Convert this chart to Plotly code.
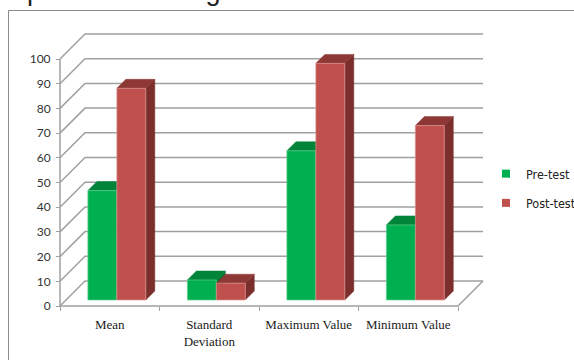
import plotly.graph_objects as go

# ---------------- data ----------------
categories = ["Mean", "Standard<br>Deviation", "Maximum Value", "Minimum Value"]
series_names = ["Pre-test", "Post-test"]
pre_test = [44.3, 8.1, 60.4, 30.4]
post_test = [85.7, 6.8, 95.8, 70.6]
y_tick_values = [0, 10, 20, 30, 40, 50, 60, 70, 80, 90, 100]

# ---------------- style ----------------
WALL_DX, WALL_DY = 0.2513, 10.12      # oblique depth of the chart walls (data units)
BAR_FRONT = 0.24                       # depth fraction of bar front faces
BAR_DEPTH = 0.36                       # depth fraction of bar thickness
GROUP_START = 0.22                     # start of first bar within a category
BAR_W = 0.291
GRID_COLOR = "#a0a0a0"
COLORS = {
    "Pre-test": dict(front="#00B050", top="#00843A", side="#007533", edge="#5fd08e"),
    "Post-test": dict(front="#C0504D", top="#8E3836", side="#7A2F2D", edge="#dc9593"),
}

n_cat = len(categories)
fig = go.Figure()

# ---------- walls, floor and gridlines ----------
gx, gy = [], []
for v in y_tick_values:
    gx += [0, WALL_DX, n_cat + WALL_DX, None]
    gy += [v, v + WALL_DY, v + WALL_DY, None]
gx += [0, n_cat, n_cat + WALL_DX, None, 0, 0]
gy += [0, 0, WALL_DY, None, 0, y_tick_values[-1]]
fig.add_trace(go.Scatter(x=gx, y=gy, mode="lines", line=dict(color=GRID_COLOR, width=1.5),
                         showlegend=False, hoverinfo="skip"))

# ---------- 3D bars ----------
sx, sy = BAR_FRONT * WALL_DX, BAR_FRONT * WALL_DY
ddx, ddy = BAR_DEPTH * WALL_DX, BAR_DEPTH * WALL_DY

for k, (name, vals) in enumerate(zip(series_names, [pre_test, post_test])):
    c = COLORS[name]
    fx, fy, tx, ty, sdx, sdy = [], [], [], [], [], []
    for i, h in enumerate(vals):
        x0 = i + GROUP_START + k * BAR_W + sx
        x1 = x0 + BAR_W
        b = sy
        t = sy + h
        fx += [x0, x1, x1, x0, x0, None]
        fy += [b, b, t, t, b, None]
        tx += [x0, x1, x1 + ddx, x0 + ddx, x0, None]
        ty += [t, t, t + ddy, t + ddy, t, None]
        sdx += [x1, x1 + ddx, x1 + ddx, x1, x1, None]
        sdy += [b, b + ddy, t + ddy, t, b, None]
    fig.add_trace(go.Scatter(x=sdx, y=sdy, mode="lines", fill="toself", fillcolor=c["side"],
                             line=dict(color=c["side"], width=0.5), showlegend=False, hoverinfo="skip"))
    fig.add_trace(go.Scatter(x=tx, y=ty, mode="lines", fill="toself", fillcolor=c["top"],
                             line=dict(color=c["top"], width=0.5), showlegend=False, hoverinfo="skip"))
    fig.add_trace(go.Scatter(x=fx, y=fy, mode="lines", fill="toself", fillcolor=c["front"],
                             line=dict(color=c["edge"], width=0.7), showlegend=False, hoverinfo="skip"))

# legend entries
for name in series_names:
    fig.add_trace(go.Scatter(x=[None], y=[None], mode="markers", name=name, legendgroup=name,
                             marker=dict(symbol="square", size=8, color=COLORS[name]["front"])))

W, H = 574, 360
fig.update_layout(
    width=W, height=H,
    margin=dict(l=0, r=0, t=0, b=0, autoexpand=False),
    paper_bgcolor="white", plot_bgcolor="white",
    hovermode=False,
    xaxis=dict(range=[-60 / 99.5, 514 / 99.5], domain=[0, 1], anchor="free", position=54 / H,
               automargin=False,
               tickmode="array", tickvals=[i + 0.5 for i in range(n_cat)], ticktext=categories,
               ticks="", showgrid=False, zeroline=False, showline=False,
               tickfont=dict(family="Liberation Serif, Times New Roman, serif", size=13, color="#1a1a1a"),
               ticklabelstandoff=9,
               minor=dict(tickmode="array", tickvals=list(range(n_cat + 1)), ticks="outside",
                          ticklen=4, tickcolor=GRID_COLOR, tickwidth=1, showgrid=False)),
    yaxis=dict(range=[-54 / 2.47, 306 / 2.47], domain=[0, 1], anchor="free", position=60 / W,
               automargin=False,
               tickmode="array", tickvals=y_tick_values, ticks="outside", ticklen=4,
               tickcolor=GRID_COLOR, tickwidth=1, showgrid=False, zeroline=False, showline=False,
               tickfont=dict(family="Lato, Liberation Sans, sans-serif", size=12, color="#333333"),
               ticklabelstandoff=3),
    legend=dict(x=486 / W, y=1 - 159 / H, xanchor="left", yanchor="top",
                traceorder="grouped", tracegroupgap=10, bgcolor="rgba(0,0,0,0)",
                font=dict(family="Liberation Sans Narrow, DejaVu Sans Condensed, Liberation Sans, Arial",
                          size=12.5, color="#222222")),
    shapes=[dict(type="rect", xref="paper", yref="paper", x0=8.5 / W, x1=1.05, y0=-0.05, y1=1 - 10.5 / H,
                 line=dict(color="#8a8a8a", width=1), fillcolor="rgba(0,0,0,0)", layer="below")],
    annotations=[dict(text="as presented in Figure", xref="paper", yref="paper", x=-11 / W, y=1 - 8 / H,
                      xanchor="left", yanchor="bottom", showarrow=False,
                      font=dict(family="Liberation Sans, Arial", size=27, color="#222222"))],
)

fig.write_html("out.html")
